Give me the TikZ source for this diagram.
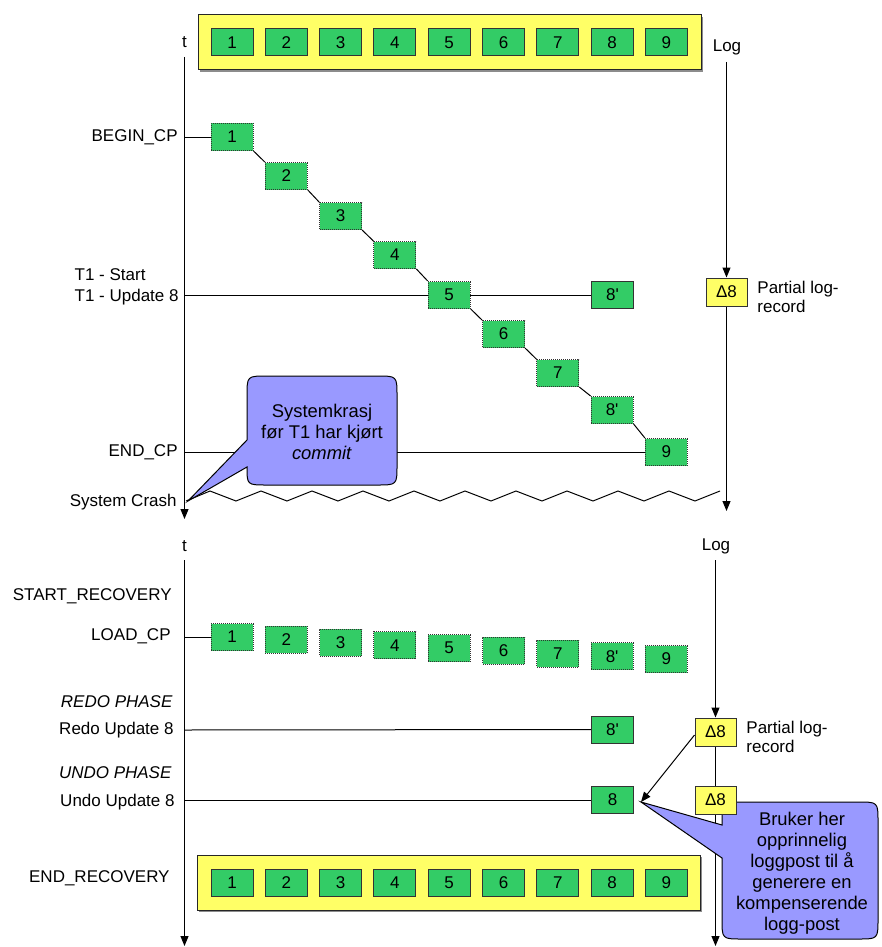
\documentclass[tikz,border=0pt]{standalone}
\usepackage{fontspec}
\setmainfont{Liberation Sans}
\usetikzlibrary{arrows.meta,shadows}
\definecolor{boxgreen}{HTML}{33CC66}
\definecolor{logyellow}{HTML}{FFFF66}
\definecolor{notepurple}{HTML}{9999FF}
\pgfdeclarelayer{background}
\pgfsetlayers{background,main}
\begin{document}
\begin{tikzpicture}[x=0.5pt,y=-0.5pt,
  every node/.style={font=\fontsize{8.5}{10.25}\selectfont},
  page/.style={draw=black!80, fill=boxgreen, minimum width=21pt, minimum height=13.5pt, inner sep=0pt, line width=0.5pt},
  flushed/.style={page, dash pattern=on 0.5pt off 0.5pt},
  delta/.style={draw=black!80, fill=logyellow, minimum width=20.5pt, minimum height=14pt, inner sep=0pt, line width=0.5pt},
  bar/.style={draw=black!85, fill=logyellow, minimum width=251.5pt, minimum height=27.5pt, inner sep=0pt, line width=0.5pt,
    drop shadow={shadow xshift=0.8pt, shadow yshift=-0.8pt, fill=black!45, opacity=1}},
  axis/.style={line width=0.5pt, -{Triangle[length=5pt,width=4pt]}},
  link/.style={line width=0.5pt},
  lbl/.style={anchor=east, inner sep=0pt},
  note/.style={fill=notepurple, draw=black, line width=0.5pt},
  notetext/.style={align=center, inner sep=0pt, font=\fontsize{9.2}{10.3}\selectfont}]

\useasboundingbox (0,0) rectangle (882,947);

% ---------------- checkpoint phase ----------------
\node[bar] (top) at (449.5,42.5) {};
\foreach \i/\t in {1/1,2/2,3/3,4/4,5/5,6/6,7/7,8/8,9/9}
  \node[page] (t\i) at ({232+54.3*(\i-1)},42.5) {\t};

\node (tt) at (184.5,42) {t};
\node (log1) at (727,47) {Log};
\coordinate (ltop) at (184.5,57);
\coordinate (lbot) at (184.5,519);
\coordinate (gtop) at (726.5,62);
\coordinate (gbot) at (726.5,511);

\foreach \i/\y/\t in {1/137/1,2/176/2,3/216/3,4/255/4,5/295/5,6/334/6,7/373/7,8/410/8\textquotesingle,9/452/9}
  \node[flushed] (d\i) at ({232+54.3*(\i-1)},\y) {\t};
\node[page] (u8) at (612.5,295) {8\textquotesingle};
\node[delta] (da) at (726.5,292) {Δ8};

\coordinate (a1) at (184.5,137);
\coordinate (a2) at (184.5,295);
\coordinate (a3) at (184.5,452);
\coordinate (crash) at (188,501);

\node[lbl] (lb1) at (178,137) {BEGIN\_CP};
\node[lbl, align=left] (lb2) at (179,286.5) {T1 - Start\\[0.3pt]T1 - Update 8};
\node[lbl] (lb3) at (178,452) {END\_CP};
\node[lbl] (lb4) at (177,502) {System Crash};
\node[anchor=west, align=left, inner sep=0pt, font=\fontsize{8.5}{9.5}\selectfont] (pl1) at (757,296.5) {Partial log-\\record};

\begin{pgfonlayer}{background}
  \draw[axis] (ltop) -- (lbot);
  \draw[axis] (gtop) -- (da.north);
  \draw[axis] (da.south) -- (gbot);
  \draw[link] (a1) -- (d1.west);
  \draw[link] (a2) -- (u8.west);
  \draw[link] (a3) -- (d9.west);
  \foreach \i [evaluate=\i as \j using int(\i+1)] in {1,...,8}
    \draw[link] (d\i.south east) -- (d\j.north west);
  % crash line
  \draw[link] (186,501) \foreach \k in {0,...,9} { -- ({210+51*\k},491) -- ({236+51*\k},501) } -- (720,491);
\end{pgfonlayer}

% callout: crash before commit
\draw[note] (267,376) -- (377,376) .. controls (397,376) .. (397,396)
  -- (397,465) .. controls (397,485) .. (377,485)
  -- (267,485) .. controls (247,485) .. (247,467)
  -- (crash) -- (247,440)
  -- (247,396) .. controls (247,376) .. (267,376) -- cycle;
\node[notetext] (n1) at (322,432) {Systemkrasj\\før T1 har kjørt\\\textit{commit}};

% ---------------- recovery phase ----------------
\node (tt2) at (184.5,546) {t};
\node (log2) at (716,546) {Log};
\coordinate (mtop) at (184.5,560);
\coordinate (mbot) at (184.5,946);
\coordinate (htop) at (715.5,560);
\coordinate (hbot) at (715.5,946);

\foreach \i/\t in {1/1,2/2,3/3,4/4,5/5,6/6,7/7,8/8\textquotesingle,9/9}
  \node[flushed] (l\i) at ({232+54.3*(\i-1)},{637+2.75*(\i-1)}) {\t};
\node[page] (r8) at (612.5,729.5) {8\textquotesingle};
\node[page] (b8) at (612.5,800) {8};
\node[delta] (db) at (715.5,732) {Δ8};

\node[bar] (bot) at (449,883) {};
\foreach \i/\t in {1/1,2/2,3/3,4/4,5/5,6/6,7/7,8/8,9/9}
  \node[page] (e\i) at ({232+54.3*(\i-1)},883) {\t};

\coordinate (a4) at (184.5,637);
\coordinate (a5) at (184.5,730);
\coordinate (a6) at (184.5,800);
\coordinate (tip) at (641,802);

\node[lbl] (lb5) at (172,596) {START\_RECOVERY};
\node[lbl] (lb6) at (171,636) {LOAD\_CP};
\node[lbl] (lb7) at (173,702) {\textit{REDO PHASE}};
\node[lbl] (lb8) at (174,730) {Redo Update 8};
\node[lbl] (lb9) at (172,773) {\textit{UNDO PHASE}};
\node[lbl] (lb10) at (175,802) {Undo Update 8};
\node[lbl] (lb11) at (170,878) {END\_RECOVERY};
\node[anchor=west, align=left, inner sep=0pt, font=\fontsize{8.5}{9.5}\selectfont] (pl2) at (746,736.5) {Partial log-\\record};

\begin{pgfonlayer}{background}
  \draw[axis] (mtop) -- (mbot);
  \draw[axis] (htop) -- (db.north);
  \draw[axis] (db.south) -- (hbot);
  \draw[link] (a4) -- (l1.west);
  \draw[link] (a5) -- (r8.west);
  \draw[link] (a6) -- (b8.west);
\end{pgfonlayer}

\draw[axis] (db.west) ++(0,3) -- (tip);

% callout: compensating log record
\draw[note] (742,802) -- (858,802) .. controls (878,802) .. (878,822)
  -- (878,919) .. controls (878,939) .. (858,939)
  -- (742,939) .. controls (722,939) .. (722,919)
  -- (722,858) -- (tip) -- (722,825)
  -- (722,822) .. controls (722,802) .. (742,802) -- cycle;
\node[notetext, font=\fontsize{9.2}{10.5}\selectfont] (n2) at (802,873.5)
  {Bruker her\\opprinnelig\\loggpost til å\\generere en\\kompenserende\\logg-post};

\node[delta] (dc) at (715.5,800) {Δ8};

\end{tikzpicture}
\end{document}
